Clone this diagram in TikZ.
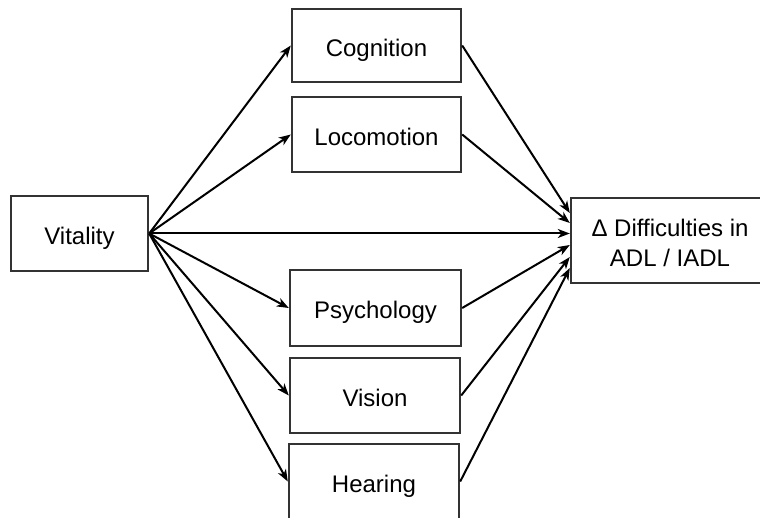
\documentclass[tikz,border=0pt]{standalone}
\usepackage{fontspec}
\setmainfont{Liberation Sans}
\usetikzlibrary{arrows.meta}
\definecolor{boxline}{HTML}{333333}
\begin{document}
\begin{tikzpicture}[x=1pt,y=-1pt,
  box/.style={draw=boxline,line width=2.4pt,fill=white,inner sep=0pt,
    text height=22pt,text depth=0pt,
    font=\fontsize{24}{30}\selectfont,align=center},
  conn/.style={line width=2pt,-{Stealth[length=12pt,width=9pt,inset=3.5pt]}}]
\useasboundingbox (0,0) rectangle (760,518);
\clip (0,0) rectangle (760,518);
\node[box,minimum width=137pt,minimum height=75pt] (vit) at (79.5,233.5) {Vitality};
\node[box,minimum width=169pt,minimum height=73pt] (cog) at (376.5,45.5) {Cognition};
\node[box,minimum width=169pt,minimum height=75pt] (loc) at (376.5,134.5) {Locomotion};
\node[box,minimum width=171pt,minimum height=76pt] (psy) at (375.5,308) {Psychology};
\node[box,minimum width=170pt,minimum height=75pt] (vis) at (375,395.5) {Vision};
\node[box,minimum width=170pt,minimum height=75pt] (hea) at (374,481.5) {Hearing};
\node[box,text height=52pt,minimum width=198pt,minimum height=85pt] (adl) at (670,240.5) {Δ Difficulties in\\ADL / IADL};
\draw[conn] (vit.east) -- (cog.west);
\draw[conn] (vit.east) -- (loc.west);
\draw[conn] (vit.east) -- (psy.west);
\draw[conn] (vit.east) -- (vis.west);
\draw[conn] (vit.east) -- (hea.west);
\draw[conn] (vit.east) -- ([yshift=7pt]adl.west);
\draw[conn] (cog.east) -- ([yshift=27.5pt]adl.west);
\draw[conn] (loc.east) -- ([yshift=17.5pt]adl.west);
\draw[conn] (psy.east) -- ([yshift=-4.5pt]adl.west);
\draw[conn] (vis.east) -- ([yshift=-16.5pt]adl.west);
\draw[conn] (hea.east) -- ([yshift=-27.5pt]adl.west);
\end{tikzpicture}
\end{document}
